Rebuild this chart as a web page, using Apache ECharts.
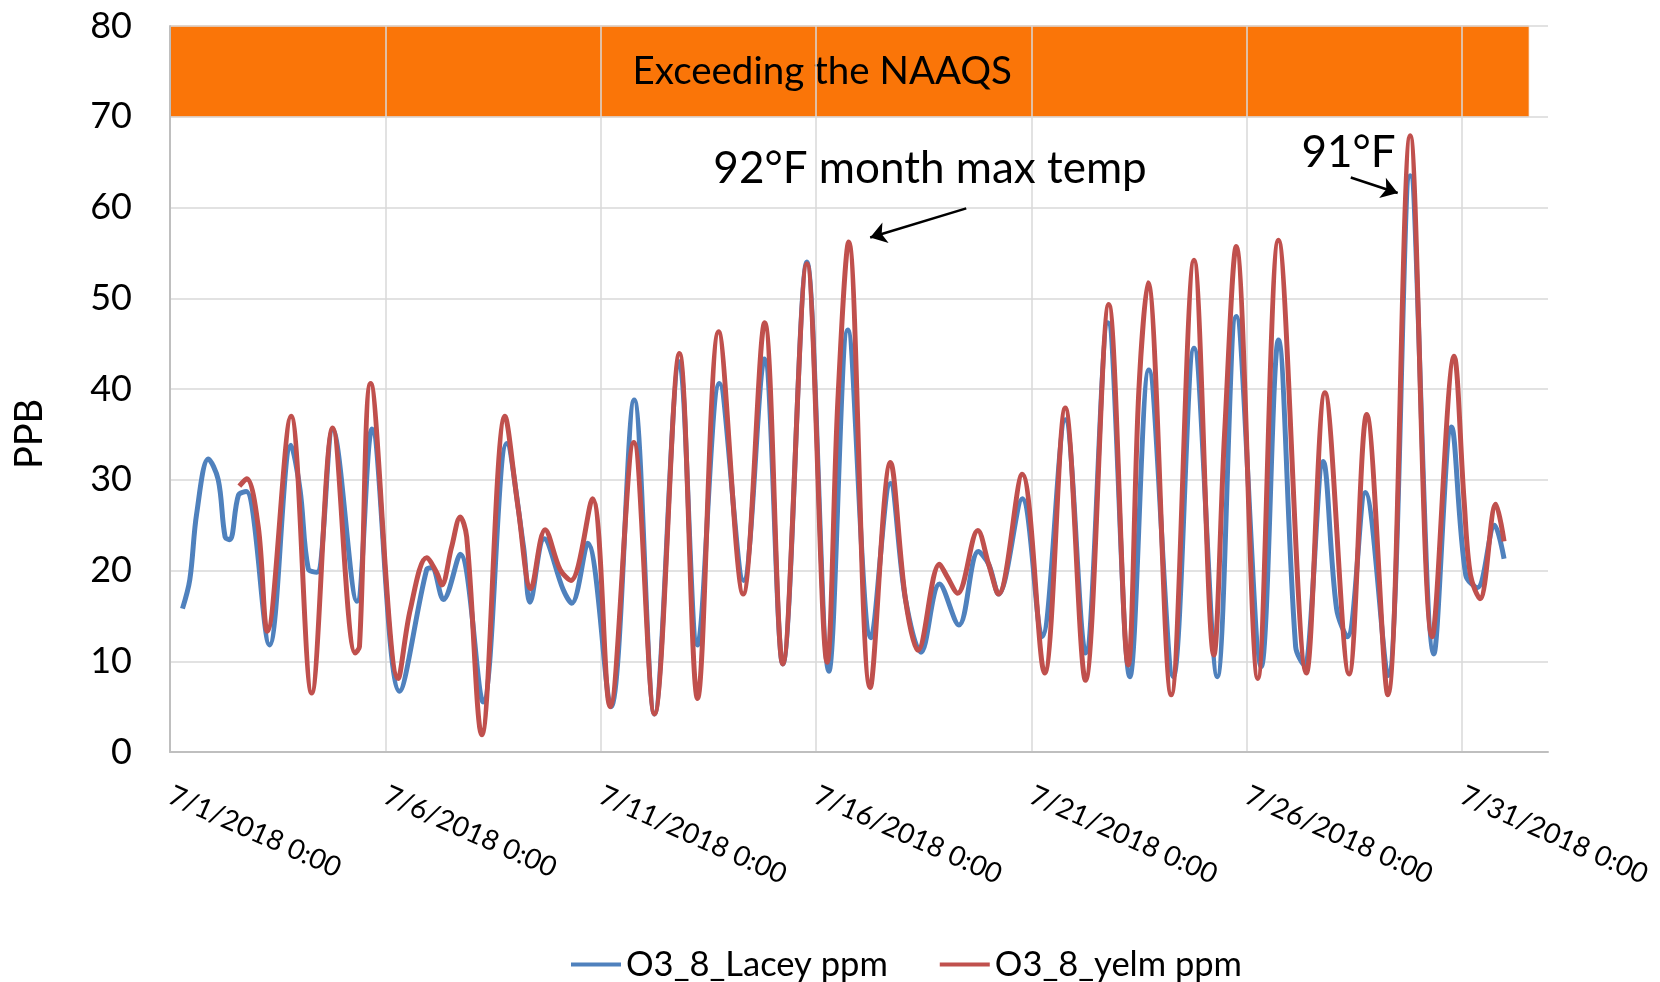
<!DOCTYPE html>
<html>
<head>
<meta charset="utf-8">
<script src="https://cdn.jsdelivr.net/npm/echarts@6/dist/echarts.min.js"></script>
<style>
  html, body { margin: 0; padding: 0; background: #fff; }
  #chart { width: 1660px; height: 982px; }
</style>
</head>
<body>
<div id="chart"></div>
<script>
// x is days since 7/1/2018 0:00, y is ppb (8-hr ozone)
const xTickLabels = ['7/1/2018 0:00', '7/6/2018 0:00', '7/11/2018 0:00', '7/16/2018 0:00',
                     '7/21/2018 0:00', '7/26/2018 0:00', '7/31/2018 0:00'];

// O3_8_Lacey ppm (blue)
const laceyDay = [0.29, 0.46, 0.62, 0.89, 1.12, 1.28, 1.39, 1.59, 1.77, 2.31, 2.81, 3.02, 3.21, 3.41, 3.78,
    4.34, 4.69, 5.33, 5.96, 6.08, 6.35, 6.74, 7.27, 7.82, 8.21, 8.36, 8.69, 9.13, 9.33, 9.70,
    10.24, 10.78, 11.25, 11.83, 12.25, 12.76, 13.32, 13.80, 14.23, 14.79, 15.30, 15.74, 16.28, 16.73,
    17.08, 17.44, 17.87, 18.32, 18.77, 19.01, 19.24, 19.79, 20.25, 20.79, 21.26, 21.78, 22.29, 22.73,
    23.30, 23.78, 24.32, 24.76, 25.34, 25.74, 26.14, 26.33, 26.78, 27.09, 27.34, 27.76, 28.28, 28.80,
    29.35, 29.76, 30.09, 30.36, 30.76, 30.98];
const laceyVal = [15.8, 19.0, 26.3, 32.3, 30.0, 23.7, 23.4, 28.3, 28.7, 11.8, 33.8, 28.9, 20.2, 19.8, 35.5,
    16.6, 35.6, 6.7, 20.1, 20.3, 16.8, 21.8, 5.5, 34.0, 22.6, 16.5, 23.5, 17.9, 16.4, 23.0,
    5.0, 38.8, 4.2, 43.0, 11.8, 40.6, 18.9, 43.3, 9.7, 54.0, 8.9, 46.5, 12.6, 29.6,
    16.8, 11.0, 18.5, 14.0, 22.1, 20.7, 17.4, 27.9, 12.7, 36.6, 10.9, 47.3, 8.3, 42.1,
    8.3, 44.5, 8.3, 48.0, 9.4, 45.4, 11.6, 9.6, 32.0, 15.8, 12.7, 28.6, 8.4, 63.5,
    10.8, 35.8, 19.5, 18.1, 25.0, 21.3];

// O3_8_yelm ppm (red)
const yelmDay = [1.61, 1.78, 2.05, 2.26, 2.81, 3.29, 3.78, 4.30, 4.40, 4.66, 5.30, 5.58, 5.96, 6.20, 6.31,
    6.54, 6.74, 6.89, 7.24, 7.78, 8.09, 8.38, 8.71, 9.06, 9.31, 9.81, 10.22, 10.77, 11.25, 11.83,
    12.25, 12.74, 13.31, 13.81, 14.23, 14.79, 15.26, 15.51, 15.76, 16.26, 16.73, 17.08, 17.37, 17.87,
    18.05, 18.29, 18.76, 19.01, 19.24, 19.79, 20.31, 20.79, 21.26, 21.80, 22.25, 22.50, 22.71, 23.25,
    23.78, 24.24, 24.49, 24.76, 25.26, 25.74, 26.39, 26.82, 27.38, 27.79, 28.28, 28.80, 29.31, 29.82,
    30.05, 30.20, 30.42, 30.79, 30.98];
const yelmVal = [29.3, 30.1, 24.8, 13.3, 37.0, 6.5, 35.7, 10.9, 11.6, 40.6, 8.1, 15.7, 21.4, 19.7, 18.4,
    22.6, 25.9, 23.7, 1.9, 37.0, 26.7, 18.0, 24.5, 20.1, 18.9, 27.9, 5.0, 34.1, 4.2, 43.9,
    5.9, 46.3, 17.4, 47.3, 9.7, 53.8, 9.9, 38.8, 56.2, 7.1, 31.9, 16.8, 11.2, 20.7,
    19.3, 17.5, 24.4, 20.7, 17.4, 30.6, 8.7, 37.9, 7.9, 49.3, 9.6, 39.9, 51.7, 6.3,
    54.2, 10.7, 35.1, 55.7, 8.1, 56.4, 8.7, 39.6, 8.6, 37.2, 6.3, 67.9, 12.7, 43.6,
    27.8, 19.5, 16.9, 27.3, 23.2];

const pairs = (xs, ys) => xs.map((x, i) => [x, ys[i]]);

const font = 'Lato';
const chart = echarts.init(document.getElementById('chart'));

chart.setOption({
    animation: false,
    textStyle: { fontFamily: font, color: '#000' },
    grid: { left: 170, right: 112, top: 26, bottom: 230 },
    legend: {
        data: ['O3_8_Lacey ppm', 'O3_8_yelm ppm'],
        left: 566,
        top: 942,
        icon: 'rect',
        itemWidth: 50,
        itemHeight: 4,
        itemGap: 52,
        textStyle: { fontSize: 34.5, fontFamily: font, color: '#000' }
    },
    xAxis: {
        type: 'value',
        min: 0,
        max: 32,
        interval: 5,
        axisLine: { lineStyle: { color: '#BFBFBF', width: 2 } },
        axisTick: { show: false },
        splitLine: { showMaxLine: false, lineStyle: { color: '#D9D9D9', width: 1.5 } },
        axisLabel: {
            rotate: -24,
            margin: 42,
            fontSize: 28,
            color: '#000',
            showMaxLabel: false,
            formatter: v => (v % 5 === 0 && v / 5 < xTickLabels.length) ? xTickLabels[v / 5] : ''
        }
    },
    yAxis: {
        type: 'value',
        min: 0,
        max: 80,
        interval: 10,
        axisLine: { show: true, lineStyle: { color: '#BFBFBF', width: 2 } },
        axisTick: { show: false },
        splitLine: { lineStyle: { color: '#D9D9D9', width: 1.5 } },
        axisLabel: { fontSize: 36, margin: 38, color: '#000' }
    },
    graphic: [{
        type: 'text',
        x: 30,
        y: 434,
        rotation: Math.PI / 2,
        style: { text: 'PPB', font: '38px Lato', fill: '#000', textAlign: 'center', textVerticalAlign: 'middle' }
    }],
    series: [
        {
            // NAAQS band, drawn under the gridlines
            name: 'band',
            type: 'line',
            z: -1,
            data: [],
            markArea: {
                silent: true,
                z: -1,
                itemStyle: { color: '#FA7508', borderColor: '#F79A50', borderWidth: 1 },
                label: {
                    show: true,
                    position: 'inside',
                    offset: [-27, 0],
                    formatter: 'Exceeding the NAAQS',
                    fontSize: 38.5,
                    fontFamily: font,
                    color: '#000'
                },
                data: [[{ coord: [0, 80] }, { coord: [31.55, 70] }]]
            }
        },
        {
            name: 'O3_8_Lacey ppm',
            type: 'line',
            smooth: 0.35,
            symbol: 'none',
            lineStyle: { color: '#4F81BD', width: 5 },
            itemStyle: { color: '#4F81BD' },
            data: pairs(laceyDay, laceyVal)
        },
        {
            name: 'O3_8_yelm ppm',
            type: 'line',
            smooth: 0.35,
            symbol: 'none',
            lineStyle: { color: '#C0504D', width: 5 },
            itemStyle: { color: '#C0504D' },
            data: pairs(yelmDay, yelmVal)
        },
        {
            // annotations
            name: 'notes',
            type: 'line',
            z: 5,
            data: [],
            markLine: {
                silent: true,
                symbol: ['none', 'arrow'],
                symbolSize: 16,
                lineStyle: { color: '#000', width: 2.5, type: 'solid' },
                label: { show: false },
                data: [
                    [{ coord: [18.49, 59.9] }, { coord: [16.26, 56.7] }],
                    [{ coord: [27.42, 63.3] }, { coord: [28.51, 61.6] }]
                ]
            },
            markPoint: {
                silent: true,
                symbol: 'rect',
                symbolSize: 1,
                itemStyle: { color: 'rgba(0,0,0,0)' },
                label: { show: true, position: 'inside', fontFamily: font, color: '#000', fontSize: 44 },
                data: [
                    { coord: [17.65, 64.3], label: { formatter: '92°F month max temp' } },
                    { coord: [27.37, 66.0], label: { formatter: '91°F' } }
                ]
            }
        }
    ]
});
</script>
</body>
</html>
